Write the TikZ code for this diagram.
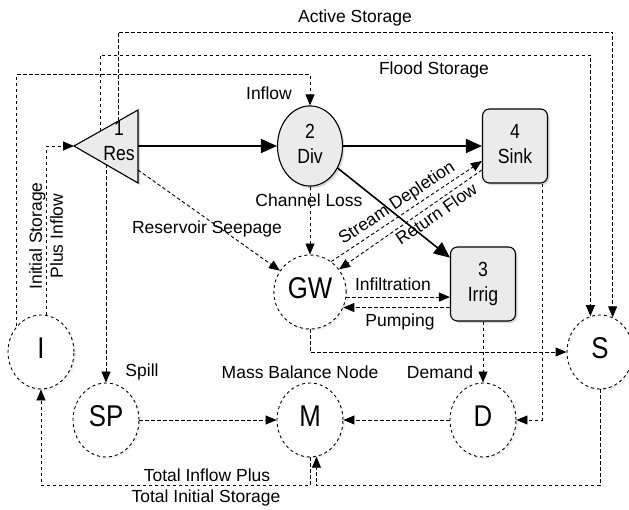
\documentclass[tikz,border=0pt]{standalone}
\usepackage{fontspec}
\setmainfont{Liberation Sans}
\usetikzlibrary{arrows.meta,shapes.geometric,shadows,calc}
\newcommand{\narrowtext}[1]{\scalebox{0.86}[1]{\begin{tabular}{@{}c@{}}#1\end{tabular}}}

\begin{document}
\begin{tikzpicture}[x=1pt, y=-1pt,
    every node/.style={font=\fontsize{17.5}{24}\selectfont},
    softshadow/.style={drop shadow={shadow xshift=2pt, shadow yshift=-2pt, opacity=0.3}},
    boxnode/.style={draw, line width=1.1pt, fill=black!8, rounded corners=7pt, minimum width=65pt, minimum height=74pt, font=\fontsize{20.5}{25}\selectfont, softshadow},
    divnode/.style={ellipse, draw, line width=1.1pt, fill=black!8, minimum width=65pt, minimum height=73pt, font=\fontsize{20.5}{25}\selectfont, softshadow},
    balnode/.style={ellipse, draw, dashed, line width=0.9pt, fill=white, minimum width=66pt, minimum height=74pt, font=\fontsize{30}{32}\selectfont, drop shadow={shadow xshift=2pt, shadow yshift=-2pt, opacity=0.12}},
    mainflow/.style={line width=1.6pt, -{Triangle[length=16pt,width=14pt]}},
    link/.style={line width=0.9pt, dash pattern=on 3.5pt off 2.5pt, -{Triangle[length=11pt,width=9pt]}}
  ]
  \useasboundingbox (0,0) rectangle (629,510);

  % reservoir triangle
  \coordinate (restip) at (74,146);
  \draw[line width=1.1pt, fill=black!8, softshadow] (restip) -- (138,110) -- (138,183) -- cycle;
  \node (res) at (119,143) [font=\fontsize{20.5}{25}\selectfont] {\narrowtext{1\\Res}};
  \coordinate (resout) at (138,146);
  \coordinate (resact) at (118,121);
  \coordinate (resfld) at (100,131.5);
  \coordinate (resspl) at (106,164.5);
  \coordinate (resspg) at (138,170);

  % nodes
  \node[divnode] (div) at (310,146) {\narrowtext{2\\Div}};
  \node[boxnode] (sink) at (515,146) {\narrowtext{4\\Sink}};
  \node[boxnode] (irrig) at (483,284) {\narrowtext{3\\Irrig}};
  \node[balnode] (gw) at (310,292) {\narrowtext{GW}};
  \node[balnode] (ini) at (41,352) {\narrowtext{I}};
  \node[balnode] (sp) at (106,420) {\narrowtext{SP}};
  \node[balnode] (mb) at (310,420) {\narrowtext{M}};
  \node[balnode] (dem) at (483,420) {\narrowtext{D}};
  \node[balnode] (sto) at (600,352) {\narrowtext{S}};

  % main flows
  \draw[mainflow] (resout) -- (div);
  \draw[mainflow] (div) -- (sink);
  \draw[mainflow] (div) -- (irrig);

  % storage and inflow links
  \draw[link] (resact) -- ++(0,-89) -| (sto.70);
  \draw[link] (resfld) -- ++(0,-76.5) -| (sto.105);
  \draw[link] (ini.133) |- ([yshift=31pt]div.north) -- (div.north);
  \draw[link] (ini.81) |- (restip);
  \draw[link] (resspl) -- (sp);
  \draw[link] (resspg) -- (gw);
  \draw[link] (div) -- (gw);

  % groundwater exchange
  \draw[link] (gw.55) -- ($(sink.west)+(0,15)$)
    node[sloped, above, pos=0.48, inner sep=3pt] (lstream) {Stream Depletion};
  \draw[link] ($(sink.west)+(0,24)$) -- (gw.38)
    node[sloped, below, pos=0.36, inner sep=3pt] (lreturn) {Return Flow};
  \draw[link] (gw.-8) -- (gw.-8 -| irrig.west);
  \draw[link] (irrig.west |- gw.-25) -- (gw.-25);
  \draw[link] (gw.south) |- (sto.west);

  % demand and mass balance
  \draw[link] (irrig) -- (dem);
  \draw[link] ([xshift=27pt]sink.south) |- (dem.east);
  \draw[link] (dem) -- (mb);
  \draw[link] (sp) -- (mb);
  \draw[link] (sto.south) |- ($(mb.-80)+(0,29)$) -- (mb.-80);
  \draw[link] (mb.south) |- ($(ini.south)+(0,96)$) -- (ini.south);

  % labels
  \node (lactive) at (355,18) {Active Storage};
  \node (lflood) at (434,70) {Flood Storage};
  \node (linflow) at (269,93) {Inflow};
  \node (lchan) at (309,200) {Channel Loss};
  \node (lseep) at (207,229) {Reservoir Seepage};
  \node (linfil) at (393,284) {Infiltration};
  \node (lpump) at (400,322) {Pumping};
  \node (lspill) at (142,372) {Spill};
  \node (lmass) at (300,372) {Mass Balance Node};
  \node (ldem) at (440,372) {Demand};
  \node (ltotin) at (207,475) {Total Inflow Plus};
  \node (ltotst) at (206,498) {Total Initial Storage};
  \node (linit) at (46,236) [rotate=90, align=center, font=\fontsize{17.5}{21}\selectfont] {Initial Storage\\Plus Inflow};
\end{tikzpicture}
\end{document}
